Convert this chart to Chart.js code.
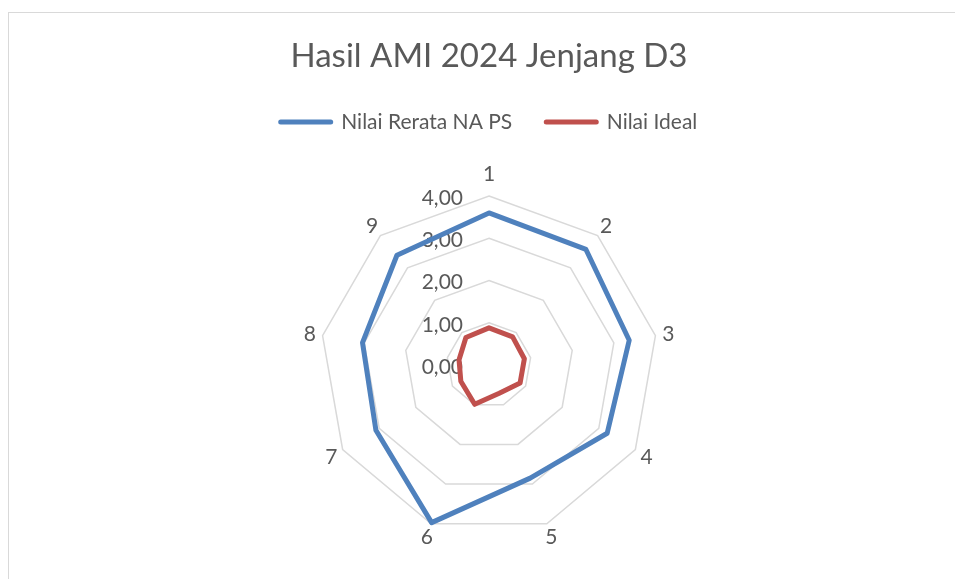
<!DOCTYPE html>
<html>
<head>
<meta charset="utf-8">
<script src="https://cdn.jsdelivr.net/npm/chart.js@4.4.1/dist/chart.umd.min.js"></script>
<style>
  html, body { margin: 0; padding: 0; background: #ffffff; overflow: hidden; }
  #wrap { position: relative; width: 955px; height: 579px; }
  #frame { position: absolute; left: 8px; top: 12px; width: 1000px; height: 1000px; border: 1px solid #d9d9d9; box-sizing: border-box; }
  #c { position: absolute; left: 0; top: 0; }
</style>
</head>
<body>
<div id="wrap">
  <div id="frame"></div>
  <canvas id="c" width="955" height="579"></canvas>
</div>
<script>
// ---- data ----
const categories = ['1', '2', '3', '4', '5', '6', '7', '8', '9'];
const nilaiRerata = [3.60, 3.57, 3.37, 3.23, 2.85, 3.97, 3.09, 3.04, 3.39];
const nilaiIdeal = [0.88, 0.87, 0.85, 0.85, 0.71, 0.99, 0.77, 0.72, 0.85];
const tickValues = [0, 1, 2, 3, 4];
const tickLabels = ['0,00', '1,00', '2,00', '3,00', '4,00'];
const seriesNames = ['Nilai Rerata NA PS', 'Nilai Ideal'];
const titleText = 'Hasil AMI 2024 Jenjang D3';

const TEXT_COLOR = '#595959';
const FONT = 'Lato';

// draws tick labels (left of the vertical axis) and the category labels
const labelPlugin = {
  id: 'excelLabels',
  beforeDatasetsDraw(chart) {
    const s = chart.scales.r;
    const ctx = chart.ctx;
    ctx.save();
    ctx.fillStyle = TEXT_COLOR;
    ctx.font = '21px ' + FONT;
    // tick labels
    ctx.textAlign = 'right';
    ctx.textBaseline = 'middle';
    s.ticks.forEach((t) => {
      const d = s.getDistanceFromCenterForValue(t.value);
      ctx.fillText(t.label, s.xCenter - 26, s.yCenter - d + 2);
    });
    // category labels
    ctx.textAlign = 'center';
    chart.data.labels.forEach((lab, i) => {
      const extra = i === 0 ? 23 : 13;
      const p = s.getPointPosition(i, s.drawingArea + extra);
      ctx.fillText(lab, p.x, p.y + 1);
    });
    ctx.restore();
  }
};

const baseGen = Chart.defaults.plugins.legend.labels.generateLabels;

new Chart(document.getElementById('c'), {
  type: 'radar',
  data: {
    labels: categories,
    datasets: [
      {
        label: seriesNames[0],
        data: nilaiRerata,
        borderColor: '#4f81bd',
        backgroundColor: '#4f81bd',
        pointBorderColor: '#4f81bd',
        pointBackgroundColor: '#4f81bd',
        borderWidth: 5,
        pointBorderWidth: 5,
        pointRadius: 0,
        pointHoverRadius: 0,
        fill: false,
        borderJoinStyle: 'round',
        borderCapStyle: 'round'
      },
      {
        label: seriesNames[1],
        data: nilaiIdeal,
        borderColor: '#c0504d',
        backgroundColor: '#c0504d',
        pointBorderColor: '#c0504d',
        pointBackgroundColor: '#c0504d',
        borderWidth: 5,
        pointBorderWidth: 5,
        pointRadius: 0,
        pointHoverRadius: 0,
        fill: false,
        borderJoinStyle: 'round',
        borderCapStyle: 'round'
      }
    ]
  },
  options: {
    responsive: false,
    animation: false,
    devicePixelRatio: 1,
    layout: { padding: { left: 23, right: 0, top: 0, bottom: 44 } },
    plugins: {
      title: {
        display: true,
        text: titleText,
        color: TEXT_COLOR,
        font: { family: FONT, size: 33, weight: 'normal', lineHeight: 1.2 },
        padding: { top: 36.7, bottom: 1.3 }
      },
      legend: {
        display: true,
        position: 'top',
        labels: {
          color: TEXT_COLOR,
          font: { family: FONT, size: 21 },
          usePointStyle: true,
          pointStyle: 'line',
          pointStyleWidth: 50,
          padding: 34,
          generateLabels: (chart) => baseGen(chart).map(l => Object.assign(l, { lineCap: 'round', lineWidth: 5 }))
        }
      },
      subtitle: {
        display: true,
        text: '',
        weight: 500,
        position: 'top',
        font: { size: 1, lineHeight: 1 },
        padding: { top: 51.8, bottom: 0 }
      },
      tooltip: { enabled: false }
    },
    scales: {
      r: {
        min: tickValues[0],
        max: tickValues[tickValues.length - 1],
        ticks: {
          display: false,
          stepSize: 1,
          callback: (v) => tickLabels[tickValues.indexOf(v)]
        },
        pointLabels: { display: false },
        angleLines: { display: false },
        grid: { color: '#d9d9d9', lineWidth: 1.5, circular: false }
      }
    }
  },
  plugins: [labelPlugin]
});
</script>
</body>
</html>
